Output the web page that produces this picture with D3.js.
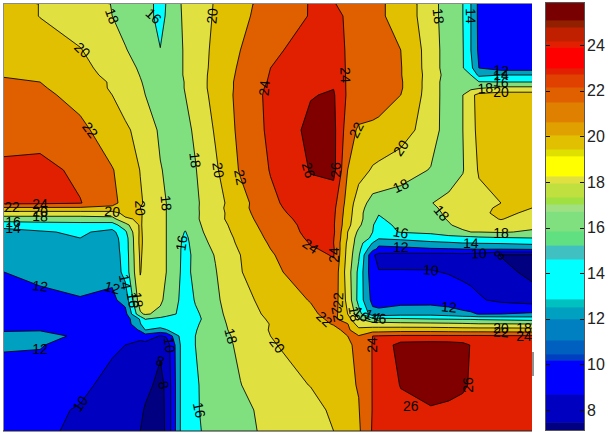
<!DOCTYPE html>
<html><head><meta charset="utf-8">
<script src="https://cdn.jsdelivr.net/npm/d3@7"></script>
<style>html,body{margin:0;padding:0;background:#fff}svg{display:block}text{font-family:"Liberation Sans",Arial,sans-serif}</style>
</head><body><div id="c"></div>
<script>
const levels = [8,10,12,14,16,18,20,22,24,26];
const levelColors = ["#0000c0","#0000ff","#00a0c0","#00ffff","#80e080","#e0e040","#e0c000","#e06000","#e02000","#800000"];
const belowColor = "#000080";
const xKnots = [4,40,80,112,125,140,145,160,166,180,185,195,215,240,270,310,333,347,358,372,378,400,430,448,462,470,478,500,531];
const yKnots = [4,16,50,68,75,82,88,95,130,170,203,208,213,219,225,232,238,243,249,255,272,300,314,319,324,330,336,345,385,410,431];
const fieldRows = [
[21,19.95,18.86,17.95,17.3,16.65,16.6,15.5,16.05,17.95,18.3,18.9,20.15,21.5,22.7,24.1,24.1,23.5,23.1,22.55,22.3,21.3,18.9,16.8,16,14,11.5,11,11],
[21,19.95,18.9,18,17.4,16.75,16.5,15.6,16.1,17.9,18.3,19,20.2,21.6,22.8,24.1,24.6,23.7,23.2,22.6,22.3,21.3,18.9,16.8,16,14,11.5,11,11],
[21.3,20.9,20.1,18.7,18.1,17.35,17.1,16.03,16.4,17.8,18.2,19.1,20.4,22,23.5,25,25.2,23.7,23.2,22.8,22.6,22,19.1,16.9,16.1,14,11.6,11,11],
[21.7,21.3,20.5,19.3,18.6,17.8,17.6,17,16.9,17.8,18.2,19.1,20.5,22.3,24,25.3,25.5,23.7,23.4,22.9,22.7,22.1,19.1,16.9,16.1,14.5,12,11,11],
[21.9,21.75,20.7,19.5,18.8,17.95,17.7,17.1,17,17.8,18.2,19.1,20.6,22.4,24.1,25.5,25.7,23.7,23.4,23,22.8,22.1,19.2,17.1,16.6,16,13.5,14,14],
[22.2,22,21,19.8,19,18.1,17.8,17.2,17.1,17.7,18.1,19,20.7,22.5,24.2,25.7,25.9,23.7,23.5,23.1,22.9,22.2,19.1,16.9,17.5,17.3,16.1,16,16],
[22.6,22.2,21.1,19.8,19.1,18.2,17.9,17.3,17.2,17.7,18.1,19,20.7,22.5,24.4,25.8,25.95,23.7,23.6,23.2,23,22.2,19.1,16.9,17.3,17.5,17.8,18.5,18.5],
[23,22.5,21.3,20,19.2,18.3,18,17.4,17.3,17.7,18,18.9,20.6,22.6,24.5,25.9,26.2,23.7,23.6,23.3,23,22,19.1,16.9,18,19.5,20.6,21,21],
[23.2,23,22.5,20.9,20.3,19.45,19.1,17.7,17.5,17.4,17.5,18.3,20.2,22.5,24.4,26.5,26.5,23,21.7,21.5,21.4,20.9,19,16.9,18,19.5,20.4,21,21],
[24.4,24.7,23.5,22.1,21.3,19.95,19.5,18.1,17.8,17.4,17.4,17.9,19.7,22.2,24.1,26.1,26.6,22,20.8,19.8,19.6,18.9,17.9,17.2,17.9,19,20.2,21,21],
[24.5,24.4,24.1,22.4,21.5,20.2,19.8,18.4,18,17.2,17.3,17.7,19.2,21.3,23.6,25.3,24.7,21.2,18.95,17.3,17.2,17,17.95,18.4,18.8,19.1,19.4,20,21],
[21.7,21.7,21.7,21.7,20.8,20,19.6,18.3,18,17.2,17.3,17.7,19.3,21.4,23.5,25.1,24.5,21,18.8,16.9,16.9,16.9,17.8,18.3,18.8,19.1,19.5,20.3,20],
[19.2,19.2,19.2,19.2,20.6,20.3,19.5,18.2,18,17.2,17.3,17.7,19.2,21.3,23.3,25,24.4,20.9,18.7,16.5,16.1,16.8,17.7,18.2,18.7,19.1,19.5,20.5,19.6],
[17,17,17,17.3,19.7,20.3,19.4,18.1,18,17.2,17,17.7,19.3,21.2,23,24.8,24.3,20.7,18.7,16.4,15.8,16.6,17.5,18.1,18.6,18.9,19.2,20.1,19],
[14.8,15.1,15.3,15.1,17.2,20.3,19.3,18.1,18,16.9,16.5,17.6,19,21,22.8,24.6,24.2,20.6,18.4,16.1,15.4,16.4,17.3,17.9,18.4,18.6,18.8,19.2,18.6],
[13.2,13.8,14.3,13.4,15.6,20.4,19.3,18.4,18,16.4,15.9,17.4,18.9,20.7,22.6,24.5,24.3,20,17.6,16,15.3,16.1,16.4,17.2,17.8,18,18,18.2,17.7],
[13,13.4,14,13.1,15,20.5,19.3,18.4,18,16.3,15.5,17.2,18.7,20.5,22.4,24.3,24.1,19.9,17,15.7,14.3,14.5,15,15.2,15.3,15.4,15.6,15.8,16],
[12.8,13.1,13.7,13,14.9,20.5,19.3,18.4,18,16.2,15.3,17.1,18.5,20.4,22.2,24.1,24,19.6,16.9,13.9,12.4,13.1,13.6,13.8,14,14,14.1,14.2,14.5],
[12.6,12.9,13.4,12.9,14.9,20.4,19.3,18.4,18,16.1,15.2,16.9,18.3,20.2,22,23.9,24.2,19.4,16.6,12.6,11.6,11.4,11.8,11.9,12,12,12.1,12.1,12.3],
[12.4,12.7,13.2,12.8,14.8,20.3,19.3,18.4,18,16.1,15,16.8,18.1,20,21.8,23.6,24.1,19.3,16.3,10.3,9.4,9.4,9.3,9.3,9.4,9.3,9.1,7.9,7.8],
[12,12.4,12.7,12.5,14.7,20.1,19.3,18.3,18,16,14.9,17,17.9,19.9,21.5,23.1,23.5,19,15.5,10.5,10.1,10.1,10.1,9.9,9.7,9.6,9.3,8.7,7.4],
[11.3,11.6,11.9,11.6,12.7,19.2,19.2,18.3,17.6,15.8,14.6,16.2,17.7,19.3,20.8,22.1,23.2,19.4,15.3,11.3,10.9,11.2,11.2,11,10.6,10.4,10.2,9.6,9.1],
[11,11.3,11.3,10.9,11.3,17.7,18.2,17.6,16.7,15.7,14.8,15.6,17.5,19.1,20.4,21.6,22.8,20,16.8,12.8,12.8,13.3,13.4,13,12.5,12.3,11.9,12,12.3],
[11,11.2,11.2,10.7,10.9,14.2,16.1,15.3,15.2,15.6,14.8,15.4,17.4,19,20.2,21.4,22.4,20.8,18.1,16.5,16.5,16.3,16,15.9,15.8,15.8,15.7,15.5,15.2],
[11,11.1,11.1,10.6,10.8,13.9,14.9,15,15,15.1,14.9,15.7,17.3,18.9,20.05,21.3,22.1,22.1,19,18.8,18.8,18.6,18.5,18.4,18.3,18.2,18.1,18.1,18],
[11.9,11.9,11.2,10.5,10.3,12.3,14,13.4,13.9,14.9,14.9,15.9,17.2,18.8,20.1,21.1,21.6,22.4,20.6,21,21,21.2,21.2,21.1,21,21,21,21,20.9],
[12.3,12.6,11.7,10.3,10.1,10.5,11,9.9,10.2,14.4,14.9,16,17,18.6,20,21,21.4,22,22.1,24,24.1,24.3,24.3,24.3,24.3,24.3,24.3,24.2,24.2],
[12.15,12.1,11.3,10.4,10,9.5,9.4,8.2,8.7,14,15,16,17,18.4,19.8,21,21.5,21.8,22.3,24.1,24.5,26.8,27,26.9,26.6,25.9,25.5,25,24.8],
[11.3,11.2,10.6,9.2,8.9,8.7,8.3,7.7,8.2,14,14.8,15.8,16.9,17.95,19.2,20.05,21,21.7,22.1,24.1,24.4,26.1,27,26.7,26.3,25.8,25.4,24.9,24.7],
[11.2,10.6,9.8,9,8.7,8.2,7.9,7.6,8.2,14,15,15.8,16.8,17.6,18.5,19.4,20.3,21.2,21.9,24.1,24.5,25.4,25.8,25.6,25.4,25.3,25.1,24.8,24.6],
[11,10.4,9.6,8.9,8.5,8,7.7,7.5,8.2,14,14.9,15.7,16.7,17.5,18.4,19.3,20,21.1,21.7,24.2,24.3,24.8,25,25,25,25,24.9,24.7,24.6]
];
// contour labels: level and the place along the sample axes where it sits
const labelLevels = [18,16,20,20,22,24,22,20,18,16,14,20,20,18,18,20,22,24,24,22,20,26,26,18,14,12,14,16,18,20,18,18,18,16,14,12,10,10,8,12,22,22,18,16,14,16,22,24,24,24,20,26,26,22,20,18,24,18,16,16,12,12,10,8,8,10,12,14,16,18];
const labelX = [113,155,213,81,98,28,12,30,30,13,13,97,142,162,191,216,237,264,340,353,385,303,335,432,467,495,497,493,490,507,415,437,501,402,468,398,422,483,493,452,338,323,353,365,370,380,333,308,333,363,277,470,410,493,500,523,523,228,198,183,50,23,76,160,166,172,122,125,132,137];
const labelY = [20,28,10,55,140,207,207,215,217,222,228,215,210,192,160,185,177,90,75,142,147,163,173,22,28,72,78,83,87,92,188,217,222,233,244,249,273,253,259,313,306,324,318,316,319,322,313,251,253,353,349,369,406,332,330,328,336,338,421,246,294,351,404,368,384,341,290,288,288,292];
const bandTops = [7.47,8.70,10.19,10.46,11.07,12.0,12.52,12.87,14.62,15.23,15.85,16.72,17.03,17.34,17.95,18.26,19.14,19.44,20.06,20.63,21.50,22.16,22.73,22.99,23.91,24.18,24.79,25.10,25.84];
const bandColors = ["#000080","#0000c0","#0000ff","#0040c0","#0060c0","#0080c0","#00a0c0","#00c0c0","#00ffff","#40c0c0","#60e080","#80e080","#a0e080","#a0e040","#c0e040","#e0e040","#ffff00","#e0e000","#e0c000","#e0a000","#e08000","#e06000","#e04000","#e02000","#ff0000","#e02000","#c02000","#902000","#780000"];
const barTicks = [8,10,12,14,16,18,20,22,24];
const barBottom = 7.12;

const W=605,H=432, pL=4,pR=532,pT=4,pB=431;
const barL=546,barR=584,barT=3,barB=430;
const svg=d3.select("#c").append("svg").attr("width",W).attr("height",H);
svg.append("defs").append("clipPath").attr("id","plot").append("rect")
  .attr("x",pL).attr("y",pT).attr("width",pR-pL).attr("height",pB-pT);

const nx=xKnots.length, ny=yKnots.length;
const xPlot=d3.scaleLinear().domain([d3.min(xKnots),d3.max(xKnots)]).range([pL,pR]);
const yPlot=d3.scaleLinear().domain([d3.min(yKnots),d3.max(yKnots)]).range([pT,pB]);
const ix=d3.scaleLinear().domain(xKnots.map((_,i)=>i+0.5)).range(xKnots.map(xPlot));
const iy=d3.scaleLinear().domain(yKnots.map((_,i)=>i+0.5)).range(yKnots.map(yPlot));
const flat=fieldRows.flat();
const gen=d3.contours().size([nx,ny]);
const g=svg.append("g").attr("clip-path","url(#plot)");
g.append("rect").attr("x",pL).attr("y",pT).attr("width",pR-pL).attr("height",pB-pT).attr("fill",belowColor);
const ringLine=d3.line().x(p=>ix(p[0])).y(p=>iy(p[1]));
const ringsByLevel=new Map();
levels.forEach((lv,k)=>{
  const mp=gen.contour(flat,lv);
  const rings=mp.coordinates.flat();
  ringsByLevel.set(lv,rings.map(r=>r.map(p=>[ix(p[0]),iy(p[1])])));
  g.append("path").attr("d",rings.map(r=>ringLine(r)+"Z").join(""))
    .attr("fill",levelColors[k]).attr("fill-rule","evenodd")
    .attr("stroke","#000").attr("stroke-width",1).attr("stroke-opacity",.85).attr("stroke-linejoin","round");
});
// labels snap to the nearest point of their level's contour and follow its direction
labelLevels.forEach((lv,i)=>{
  const ax=xPlot(labelX[i]), ay=yPlot(labelY[i]);
  let best=null,bd=1e9;
  (ringsByLevel.get(lv)||[]).forEach(r=>{
    r.forEach((p,j)=>{
      if(p[0]<pL+1||p[0]>pR-1||p[1]<pT+1||p[1]>pB-1)return;
      const d=(p[0]-ax)**2+(p[1]-ay)**2;
      if(d<bd){bd=d;best=[r,j];}
    });
  });
  let px=ax,py=ay,ang=0;
  if(best&&bd<400){
    const [r,j]=best,n=r.length;
    const a=r[(j-2+n)%n],b=r[(j+2)%n];
    px=r[j][0];py=r[j][1];
    ang=Math.atan2(b[1]-a[1],b[0]-a[0])*180/Math.PI;
    if(ang>90)ang-=180; if(ang<-90)ang+=180;
  }
  svg.append("text").attr("transform",`translate(${px},${py}) rotate(${ang})`)
    .attr("text-anchor","middle").attr("dy","0.36em").attr("font-size",14).attr("fill","#000").text(lv);
});
// frame
svg.append("line").attr("x1",3.5).attr("x2",3.5).attr("y1",3).attr("y2",431).attr("stroke","#8a8a8a");
svg.append("line").attr("x1",3).attr("x2",532).attr("y1",3.5).attr("y2",3.5).attr("stroke","#8a8a8a");
svg.append("line").attr("x1",3).attr("x2",532).attr("y1",431).attr("y2",431).attr("stroke","#222");
svg.append("line").attr("x1",533).attr("x2",533).attr("y1",352).attr("y2",376).attr("stroke","#222");
// colour bar
const yBar=d3.scaleLinear().domain([8,24]).range([410,45]);
bandTops.forEach((t,i)=>{
  const lo=i?bandTops[i-1]:barBottom;
  svg.append("rect").attr("x",barL).attr("width",barR-barL)
    .attr("y",yBar(t)).attr("height",yBar(lo)-yBar(t)+0.5).attr("fill",bandColors[i]);
});
svg.append("rect").attr("x",barL-.5).attr("y",barT-.5).attr("width",barR-barL+1).attr("height",barB-barT+1)
  .attr("fill","none").attr("stroke","#555");
const axis=d3.axisRight(yBar).tickValues(barTicks).tickSize(0).tickPadding(3);
const ag=svg.append("g").attr("transform",`translate(${barR},0)`).call(axis);
ag.select(".domain").remove();
ag.selectAll("text").attr("font-size",16).attr("font-family","Liberation Sans").attr("fill","#222");
barTicks.forEach(t=>{
  [[barL,barL+4],[barR-4,barR]].forEach(([a,b])=>svg.append("line").attr("x1",a).attr("x2",b)
    .attr("y1",Math.round(yBar(t))+.5).attr("y2",Math.round(yBar(t))+.5).attr("stroke","#111"));
});
</script></body></html>
